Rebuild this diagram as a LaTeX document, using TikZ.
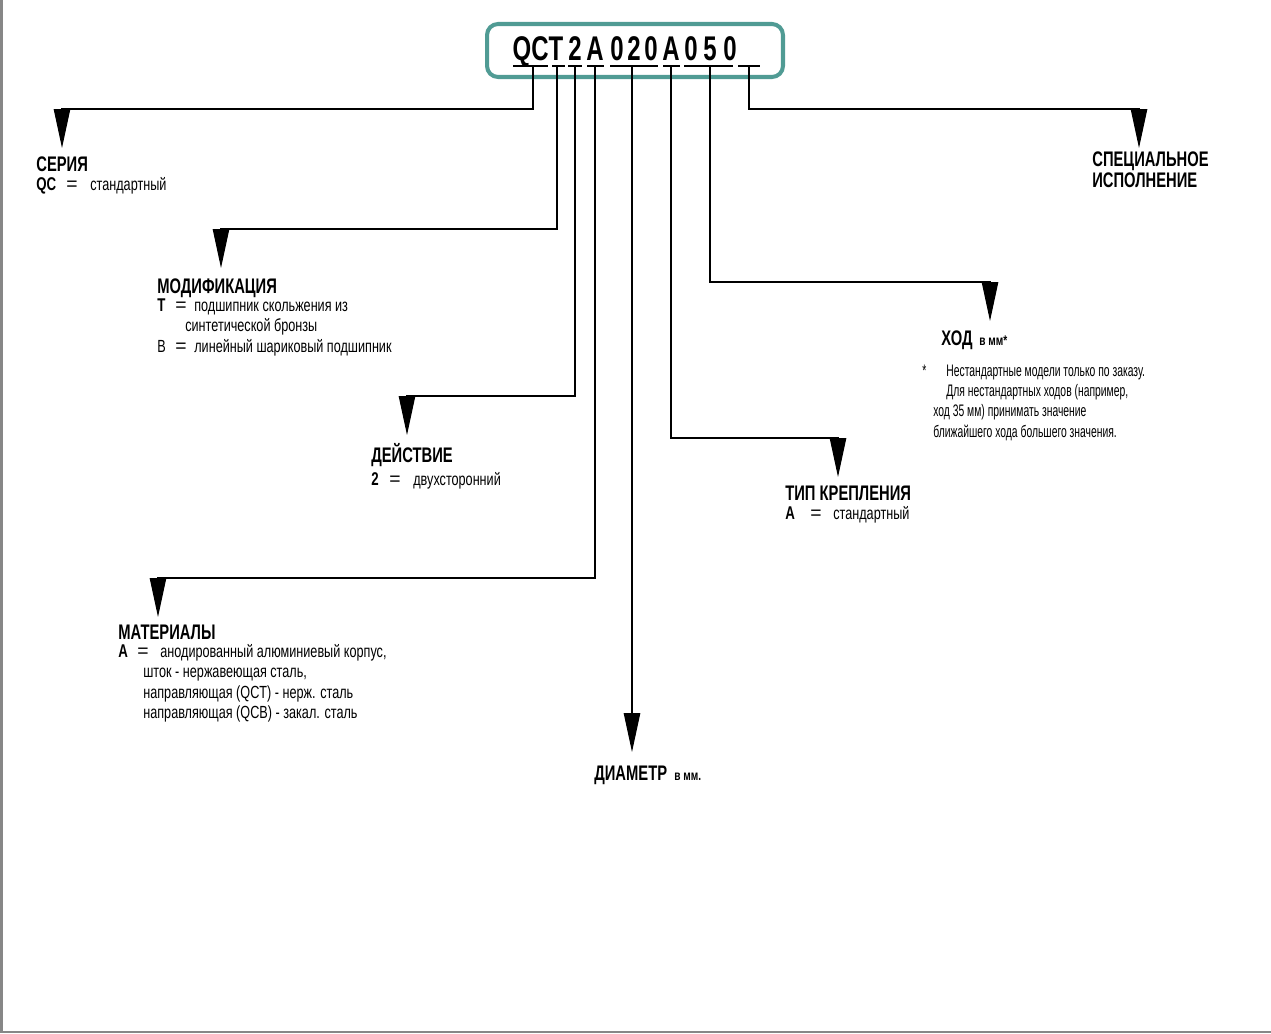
\documentclass[tikz,border=0pt]{standalone}
\usepackage{fontspec}
\setmainfont{Liberation Sans}
\newfontfamily\hdfont{Liberation Sans}[FakeStretch=0.7]
\newfontfamily\cdfont{Liberation Sans}[FakeStretch=0.7]
\newfontfamily\bdfont{Liberation Sans}[FakeStretch=0.72]
\newfontfamily\ftfont{Liberation Sans}[FakeStretch=0.62]
\usetikzlibrary{arrows.meta,positioning}
\definecolor{codeteal}{RGB}{80,155,148}
\definecolor{framegray}{RGB}{135,135,135}
\begin{document}
\begin{tikzpicture}[x=0.02cm,y=-0.02cm]
    \tikzstyle{conn} = [line width=0.6pt, -{Triangle[length=0.78cm,width=0.33cm]}]
    \tikzstyle{codebox} = [draw=codeteal, line width=2.3pt, rounded corners=0.22cm, minimum width=5.92cm, minimum height=1.06cm, inner sep=0]
    \tikzstyle{codechar} = [anchor=base, inner sep=0, font=\cdfont\bfseries\fontsize{19.5}{19.5}\selectfont]
    \tikzstyle{title} = [anchor=base west, inner sep=0, font=\hdfont\bfseries\fontsize{12}{10.2}\selectfont]
    \tikzstyle{small} = [anchor=base west, inner sep=0, font=\bdfont\bfseries\fontsize{8}{8}\selectfont]
    \tikzstyle{key} = [anchor=base west, inner sep=0, font=\bdfont\bfseries\fontsize{10.5}{10.5}\selectfont]
    \tikzstyle{eq} = [anchor=base west, inner sep=0, font=\fontsize{11}{11}\selectfont]
    \tikzstyle{body} = [anchor=base west, inner sep=0, font=\bdfont\fontsize{10}{10}\selectfont]
    \tikzstyle{note} = [anchor=base west, inner sep=0, font=\ftfont\fontsize{9.5}{9.5}\selectfont]
    \useasboundingbox (0,0) rectangle (1271,1034);
    % frame
    \draw[framegray, line width=1.2pt] (1.5,0) -- (1.5,1032) -- (1271,1032);
    % code
    \node[codebox] (box) at (635,50.5) {};
    \foreach \ch/\xx/\nm in {Q/522/cQ, C/540/cC, T/556/cT, 2/575/cTwo, A/595/cA, 0/617/cZa, 2/634/cTwob, 0/651/cZb, A/671/cAb, 0/691/cZc, 5/710/cFive, 0/730/cZd}
        \node[codechar] (\nm) at (\xx,61) {\ch};
    \foreach \a/\b in {513/548, 552/565, 568/582, 587/604, 610/658, 663/680, 684/733, 738/760}
        \draw[line width=0.6pt] (\a,66) -- (\b,66);
    \coordinate (uSer) at (533,66);
    \coordinate (uMod) at (557,66);
    \coordinate (uAct) at (575,66);
    \coordinate (uMat) at (595,66);
    \coordinate (uDia) at (632,66);
    \coordinate (uMnt) at (671,66);
    \coordinate (uStr) at (710,66);
    \coordinate (uSpc) at (749,66);
    \coordinate (kSer) at (62,109);   \coordinate (tSer) at (62,148);
    \coordinate (kMod) at (221,229);  \coordinate (tMod) at (221,268);
    \coordinate (kAct) at (407,396);  \coordinate (tAct) at (407,435);
    \coordinate (kMat) at (158,578);  \coordinate (tMat) at (158,617);
    \coordinate (tDia) at (632,752);
    \coordinate (kMnt) at (838,438);  \coordinate (tMnt) at (838,477);
    \coordinate (kStr) at (990,282);  \coordinate (tStr) at (990,321);
    \coordinate (kSpc) at (1139,109); \coordinate (tSpc) at (1139,148);
    \draw[conn] (uSer) |- (kSer) -- (tSer);
    \draw[conn] (uMod) |- (kMod) -- (tMod);
    \draw[conn] (uAct) |- (kAct) -- (tAct);
    \draw[conn] (uMat) |- (kMat) -- (tMat);
    \draw[conn] (uDia) -- (tDia);
    \draw[conn] (uMnt) |- (kMnt) -- (tMnt);
    \draw[conn] (uStr) |- (kStr) -- (tStr);
    \draw[conn] (uSpc) |- (kSpc) -- (tSpc);
    % series
    \node[title] (ser) at (36,172) {СЕРИЯ};
    \node[key] (serK) at (36,190) {QC};
    \node[eq] (serE) at (66,190) {=};
    \node[body] (serT) at (90,190) {стандартный};
    % modification
    \node[title] (mod) at (157,293) {МОДИФИКАЦИЯ};
    \node[key] (modK) at (157,311) {T};
    \node[eq] (modE) at (175,311) {=};
    \node[body] (modT) at (194,311) {подшипник скольжения из};
    \node[body] (modTb) at (185,331) {синтетической бронзы};
    \node[body] (modK2) at (157,352) {B};
    \node[eq] (modE2) at (175,352) {=};
    \node[body] (modT2) at (194,352) {линейный шариковый подшипник};
    % action
    \node[title] (act) at (371,462) {ДЕЙСТВИЕ};
    \node[key] (actK) at (371,485) {2};
    \node[eq] (actE) at (389,485) {=};
    \node[body] (actT) at (413,485) {двухсторонний};
    % materials
    \node[title] (mat) at (118,639) {МАТЕРИАЛЫ};
    \node[key] (matK) at (118,657) {A};
    \node[eq] (matE) at (137,657) {=};
    \node[body] (matT) at (160,657) {анодированный алюминиевый корпус,};
    \node[body] (matTb) at (143,677) {шток - нержавеющая сталь,};
    \node[body] (matTc) at (143,698) {направляющая (QCT) - нерж. сталь};
    \node[body] (matTd) at (143,718) {направляющая (QCB) - закал. сталь};
    % diameter
    \node[title] (dia) at (594,780) {ДИАМЕТР};
    \node[small] (diaU) at (674,780) {в мм.};
    % mounting
    \node[title] (mnt) at (785,500) {ТИП КРЕПЛЕНИЯ};
    \node[key] (mntK) at (785,519) {A};
    \node[eq] (mntE) at (810,519) {=};
    \node[body] (mntT) at (833,519) {стандартный};
    % stroke
    \node[title] (str) at (941,345) {ХОД};
    \node[small] (strU) at (979,345) {в мм*};
    \node[note] (strS) at (922,376) {*};
    \node[note] (strN) at (946,376) {Нестандартные модели только по заказу.};
    \node[note] (strNb) at (946,396) {Для нестандартных ходов (например,};
    \node[note] (strNc) at (933,416) {ход 35 мм) принимать значение};
    \node[note] (strNd) at (933,437) {ближайшего хода большего значения.};
    % special
    \node[title, align=left] (spc) at (1092,187) {СПЕЦИАЛЬНОЕ\\ИСПОЛНЕНИЕ};
\end{tikzpicture}
\end{document}
